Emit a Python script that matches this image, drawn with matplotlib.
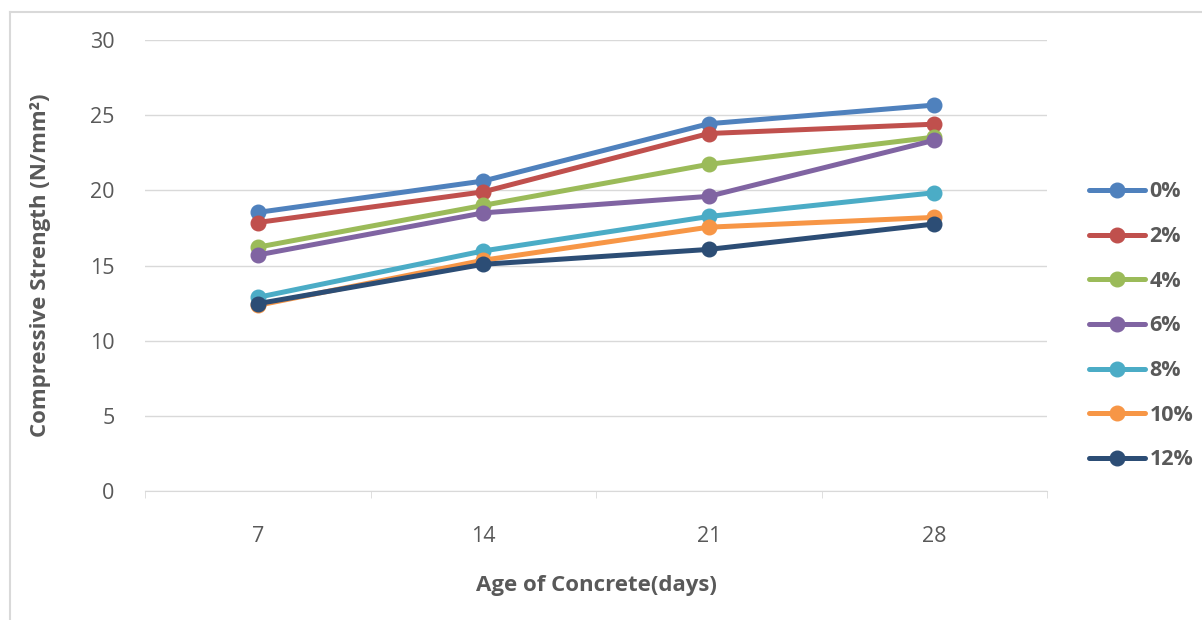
import matplotlib
matplotlib.use('Agg')
import matplotlib.pyplot as plt
from matplotlib.lines import Line2D
import numpy as np

# Age of concrete (days) and compressive strength for each replacement level
days = ['7', '14', '21', '28']
labels = ['0%', '2%', '4%', '6%', '8%', '10%', '12%']
s0 = [18.53, 20.62, 24.43, 25.67]
s2 = [17.86, 19.90, 23.78, 24.40]
s4 = [16.22, 19.00, 21.73, 23.54]
s6 = [15.70, 18.50, 19.60, 23.33]
s8 = [12.88, 15.97, 18.26, 19.84]
s10 = [12.35, 15.35, 17.55, 18.20]
s12 = [12.46, 15.08, 16.07, 17.76]
series = [s0, s2, s4, s6, s8, s10, s12]
colors = ['#4F81BD', '#C0504D', '#9BBB59', '#8064A2', '#4BACC6', '#F79646', '#2C4D75']

plt.rcParams['font.family'] = ['Open Sans', 'DejaVu Sans']
grey = '#595959'

fig = plt.figure(figsize=(12.02, 6.2), dpi=100)
ax = fig.add_axes([145/1202, 1-491/620, 902/1202, 451/620])

x = np.arange(len(days))
for vals, lab, col in zip(series, labels, colors):
    ax.plot(x, vals, color=col, lw=3.6, marker='o', markersize=10.5,
            label=lab, solid_capstyle='round')

ax.set_xlim(-0.5, len(days) - 0.5)
ax.set_ylim(0, 30)
ax.set_yticks(range(0, 31, 5))
ax.yaxis.grid(True, color='#D9D9D9', lw=1)
ax.set_axisbelow(True)
for sp in ['top', 'right', 'left']:
    ax.spines[sp].set_visible(False)
ax.spines['bottom'].set_color('#D9D9D9')
ax.tick_params(axis='y', length=0, pad=22, labelsize=15.5, labelcolor=grey)
ax.set_xticks(x)
ax.set_xticklabels(days)
ax.set_xticks(np.arange(-0.5, len(days)), minor=True)
ax.tick_params(axis='x', which='major', length=0, pad=25, labelsize=15.5, labelcolor=grey)
ax.tick_params(axis='x', which='minor', length=5, color='#D9D9D9')

ax.set_xlabel('Age of Concrete(days)', fontsize=16, fontweight='bold', color=grey, labelpad=20)
ax.set_ylabel('Compressive Strength (N/mm²)', fontsize=16, fontweight='bold', color=grey, labelpad=28)

leg = ax.legend(loc='upper left', bbox_to_anchor=(1070/1202, 1-162/620),
                bbox_transform=fig.transFigure, frameon=False, fontsize=15.5,
                handlelength=2.6, handletextpad=0.2, labelspacing=1.1)
for t in leg.get_texts():
    t.set_color(grey)
    t.set_fontweight('bold')

# outer chart-area border (top and left edges visible)
fig.add_artist(Line2D([10/1202, 1], [1-12/620, 1-12/620], color='#D9D9D9', lw=1.5))
fig.add_artist(Line2D([10/1202, 10/1202], [0, 1-12/620], color='#D9D9D9', lw=1.5))

fig.savefig('out.png', dpi=100)
